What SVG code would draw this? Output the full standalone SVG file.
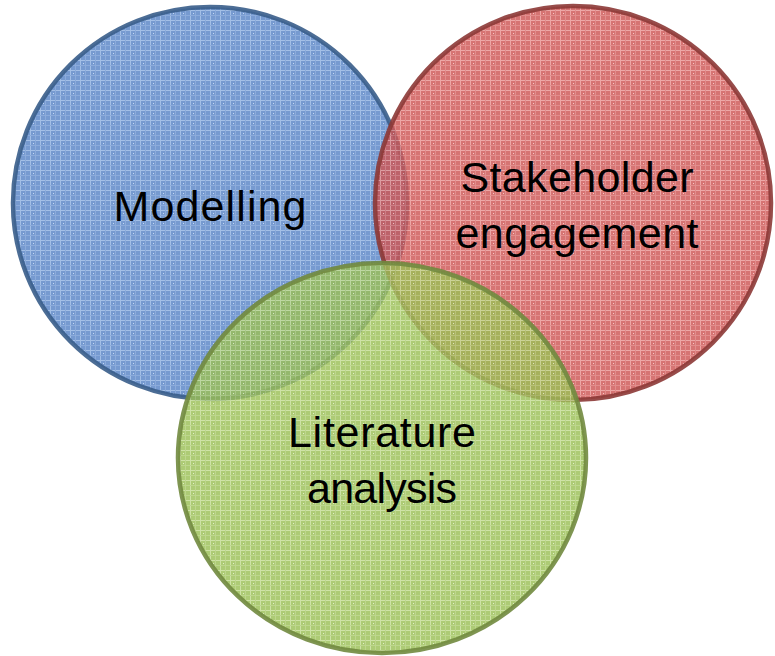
<svg xmlns="http://www.w3.org/2000/svg" width="775" height="656" viewBox="0 0 775 656">
  <style>
    .ring { stroke-width: 4.5; fill-opacity: 0.82; stroke-opacity: 0.9; }
    .label { font-family: "Liberation Sans", Arial, sans-serif; font-size: 43px; fill: #000; text-anchor: middle; }
  </style>
  <defs>
    <!-- plaid weave textures for the three circles -->
    <pattern id="weaveBlue" patternUnits="userSpaceOnUse" width="10" height="10">
      <rect width="10" height="10" fill="#5884c6"/>
      <rect x="0" y="0" width="10" height="1" fill="#8fb1e0"/>
      <rect x="0" y="0" width="1" height="10" fill="#8fb1e0"/>
      <rect x="5" y="0" width="1" height="10" fill="#7199d3"/>
      <rect x="0" y="5" width="10" height="1" fill="#7199d3"/>
      <rect x="3" y="3" width="1" height="1" fill="#b8cfee"/>
    </pattern>
    <pattern id="weaveRed" patternUnits="userSpaceOnUse" width="10" height="10">
      <rect width="10" height="10" fill="#cd5654"/>
      <rect x="0" y="0" width="10" height="1" fill="#e99492"/>
      <rect x="0" y="0" width="1" height="10" fill="#e99492"/>
      <rect x="5" y="0" width="1" height="10" fill="#dc7473"/>
      <rect x="0" y="5" width="10" height="1" fill="#dc7473"/>
      <rect x="3" y="3" width="1" height="1" fill="#f3bcbb"/>
    </pattern>
    <pattern id="weaveGreen" patternUnits="userSpaceOnUse" width="10" height="10">
      <rect width="10" height="10" fill="#9bbf57"/>
      <rect x="0" y="0" width="10" height="1" fill="#c3dc92"/>
      <rect x="0" y="0" width="1" height="10" fill="#c3dc92"/>
      <rect x="5" y="0" width="1" height="10" fill="#afcd74"/>
      <rect x="0" y="5" width="10" height="1" fill="#afcd74"/>
      <rect x="3" y="3" width="1" height="1" fill="#dceabd"/>
    </pattern>
  </defs>

  <rect width="775" height="656" fill="#ffffff"/>

  <g id="modelling">
    <ellipse class="ring" cx="210" cy="203" rx="197" ry="196" fill="url(#weaveBlue)" stroke="#385d8a"/>
  </g>
  <g id="stakeholder-engagement">
    <ellipse class="ring" cx="573" cy="203" rx="198" ry="197" fill="url(#weaveRed)" stroke="#8c3836"/>
  </g>
  <g id="literature-analysis">
    <ellipse class="ring" cx="382" cy="458" rx="204" ry="195" fill="url(#weaveGreen)" stroke="#71893f"/>
  </g>

  <g id="connectors"></g>

  <g id="labels">
    <text class="label" x="210" y="221" textLength="193">Modelling</text>
    <text class="label" x="577" y="192" textLength="233">Stakeholder</text>
    <text class="label" x="577" y="248" textLength="243">engagement</text>
    <text class="label" x="382" y="447" textLength="188">Literature</text>
    <text class="label" x="382" y="503" textLength="150">analysis</text>
  </g>
</svg>
